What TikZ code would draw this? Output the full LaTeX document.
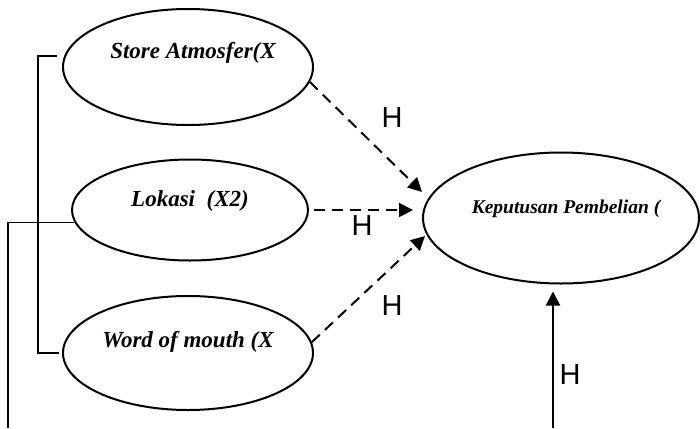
\documentclass[tikz,border=0pt]{standalone}
\usepackage{fontspec}
\setmainfont{Liberation Serif}
\setsansfont{Liberation Sans}
\usetikzlibrary{shapes.geometric,arrows.meta}

\begin{document}
\begin{tikzpicture}[x=1pt, y=-1pt,
		var/.style={ellipse, draw, line width=2pt, inner sep=0pt},
		vartext/.style={anchor=base, inner sep=0pt, font=\bfseries\itshape\fontsize{23}{27}\selectfont},
		hyp/.style={inner sep=0pt, font=\sffamily\fontsize{29}{29}\selectfont},
		dasharrow/.style={line width=2pt, dash pattern=on 11pt off 7pt, -{Triangle[length=14pt, width=14pt]}},
		solidarrow/.style={line width=2pt, -{Triangle[length=14pt, width=14pt]}}]
		\useasboundingbox (0,0) rectangle (700,428);

		% independent variables
		\node (store) at (188,67) [var, minimum width=250pt, minimum height=116pt] {};
		\node (storet) at (193,59) [vartext] {Store Atmosfer(X};

		\node (lokasi) at (190,210) [var, minimum width=236pt, minimum height=101pt] {};
		\node (lokasit) at (190,206) [vartext] {Lokasi\ \ (X2)};

		\node (word) at (188,353) [var, minimum width=250pt, minimum height=114pt] {};
		\node (wordt) at (188,347) [vartext] {Word of mouth (X};

		% dependent variable
		\node (kep) at (561,218) [var, minimum width=276pt, minimum height=131pt] {};
		\node (kept) at (566,213) [vartext, font=\bfseries\itshape\fontsize{19.5}{23}\selectfont] {Keputusan Pembelian (};

		% bracket round the three variables
		\draw [line width=2.4pt] ([xshift=-7pt]store.175) -- ++(-19,0) |- ([xshift=-3pt]word.west);

		% thin line from lokasi
		\coordinate (lfoot) at (8,428);
		\draw [line width=1.1pt] (lokasi.186) -| (lfoot);

		% partial hypotheses
		\coordinate (t1) at (422,192);
		\coordinate (t2) at (413,210);
		\coordinate (t3) at (425,236);
		\draw [dasharrow] (store.-7) -- (t1);
		\draw [dasharrow] ([xshift=5pt]lokasi.east) -- (t2);
		\draw [dasharrow] (word.5) -- (t3);

		\node (h1) at (392,118) [hyp] {H};
		\node (h2) at (362,226) [hyp] {H};
		\node (h3) at (392,306) [hyp] {H};

		% simultaneous hypothesis
		\coordinate (sfoot) at (553,428);
		\draw [solidarrow] (sfoot) -- ([yshift=-7pt]sfoot |- kep.south);
		\node (h4) at (570,375) [hyp] {H};
	\end{tikzpicture}
\end{document}
